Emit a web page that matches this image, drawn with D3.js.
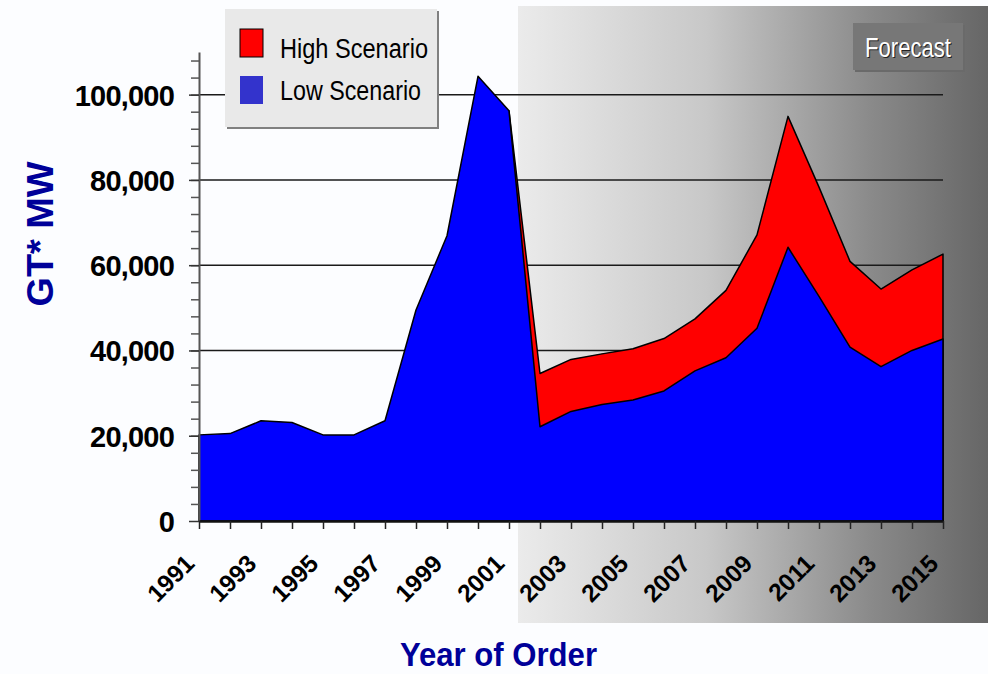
<!DOCTYPE html>
<html>
<head>
<meta charset="utf-8">
<script src="https://cdn.jsdelivr.net/npm/d3@7"></script>
<style>
  body { margin: 0; background: #fcfdff; }
  svg { display: block; }
  text { font-family: "Liberation Sans", Arial, sans-serif; }
</style>
</head>
<body>
<svg width="988" height="674"></svg>
<script>
// years of order
var years = d3.range(1991, 2016);
// low scenario, GT* MW
var lowScenario = [20200, 20500, 23500, 23100, 20200, 20200, 23500, 49500, 66900, 104300,
                   96200, 22100, 25700, 27300, 28400, 30500, 35200, 38300, 45200, 64200,
                   52700, 40800, 36200, 40000, 42700];
// high scenario (only from 2001 on)
var highScenario = [null, null, null, null, null, null, null, null, null, null,
                    96200, 34600, 37900, 39200, 40400, 42800, 47400, 54100, 67100, 94900,
                    78300, 60900, 54400, 58900, 62600];
var yTicks = [0, 20000, 40000, 60000, 80000, 100000];
var yMinor = d3.range(4000, 110000, 4000);
var xLabels = d3.range(1991, 2016, 2);
var seriesNames = ["High Scenario", "Low Scenario"];

var svg = d3.select("svg");

var x = d3.scaleLinear().domain([1991, 2015]).range([199, 943]);
var y = d3.scaleLinear().domain([0, 110000]).range([521, 52]);

// forecast shading
var defs = svg.append("defs");
var grad = defs.append("linearGradient").attr("id", "fc").attr("x1", 0).attr("x2", 1).attr("y1", 0).attr("y2", 0);
grad.append("stop").attr("offset", "0%").attr("stop-color", "#ebebeb");
grad.append("stop").attr("offset", "40%").attr("stop-color", "#c8c8c8");
grad.append("stop").attr("offset", "75%").attr("stop-color", "#8a8a8a");
grad.append("stop").attr("offset", "100%").attr("stop-color", "#666666");
svg.append("rect").attr("x", 518).attr("y", 6).attr("width", 470).attr("height", 617).attr("fill", "url(#fc)");

// gridlines
svg.append("g").selectAll("line").data(yTicks.slice(1)).enter().append("line")
  .attr("x1", x(1991)).attr("x2", x(2015))
  .attr("y1", function(d) { return y(d); }).attr("y2", function(d) { return y(d); })
  .attr("stroke", "#1a1a1a").attr("stroke-width", 1.5);

// areas
var highArea = d3.area()
  .defined(function(d, i) { return highScenario[i] != null; })
  .x(function(d, i) { return x(years[i]); })
  .y0(y(0))
  .y1(function(d, i) { return y(highScenario[i]); });
var lowArea = d3.area()
  .x(function(d, i) { return x(years[i]); })
  .y0(y(0))
  .y1(function(d, i) { return y(lowScenario[i]); });

svg.append("path").datum(years).attr("d", highArea)
  .attr("fill", "#ff0000").attr("stroke", "#000").attr("stroke-width", 1.5).attr("stroke-linejoin", "round");
svg.append("path").datum(years).attr("d", lowArea)
  .attr("fill", "#0000ff").attr("stroke", "#000").attr("stroke-width", 1.5).attr("stroke-linejoin", "round");

// y axis
var yMinorAxis = svg.append("g").attr("transform", "translate(199,0)")
  .call(d3.axisLeft(y).tickValues(yMinor).tickSize(8).tickSizeOuter(0).tickFormat(""));
yMinorAxis.select(".domain").attr("stroke", "#555").attr("stroke-width", 2);
yMinorAxis.selectAll(".tick line").attr("stroke", "#555").attr("stroke-width", 1.5);

var yAxis = svg.append("g").attr("transform", "translate(199,0)")
  .call(d3.axisLeft(y).tickValues(yTicks).tickSize(10).tickSizeOuter(0).tickPadding(15).tickFormat(d3.format(",")));
yAxis.select(".domain").remove();
yAxis.selectAll(".tick line").attr("stroke", "#333").attr("stroke-width", 1.5);
yAxis.selectAll(".tick text")
  .attr("font-size", 29).attr("font-weight", "bold").attr("fill", "#000")
  .attr("letter-spacing", -0.8).attr("dy", "0.36em");

// x axis
var xAxis = svg.append("g").attr("transform", "translate(0," + y(0) + ")")
  .call(d3.axisBottom(x).tickValues(years).tickSize(8).tickSizeOuter(0).tickFormat(""));
xAxis.select(".domain").attr("stroke", "#111").attr("stroke-width", 2.5);
xAxis.selectAll(".tick line").attr("stroke", "#222").attr("stroke-width", 1.5);

svg.append("g").selectAll("text").data(xLabels).enter().append("text")
  .attr("transform", function(d) { return "translate(" + (x(d) - 3) + ",565) rotate(-45)"; })
  .attr("text-anchor", "end")
  .attr("font-size", 24.5).attr("font-weight", "bold").attr("fill", "#000")
  .text(function(d) { return d; });

// axis titles
svg.append("text")
  .attr("transform", "translate(53,234) rotate(-90)")
  .attr("text-anchor", "middle")
  .attr("font-size", 37).attr("font-weight", "bold").attr("fill", "#000099")
  .attr("textLength", 145).attr("lengthAdjust", "spacingAndGlyphs")
  .text("GT* MW");
svg.append("text")
  .attr("x", 400).attr("y", 666)
  .attr("font-size", 33).attr("font-weight", "bold").attr("fill", "#000099")
  .attr("textLength", 197).attr("lengthAdjust", "spacingAndGlyphs")
  .text("Year of Order");

// legend
var legend = svg.append("g");
legend.append("rect").attr("x", 227).attr("y", 11).attr("width", 212).attr("height", 118).attr("fill", "#808080");
legend.append("rect").attr("x", 225).attr("y", 9).attr("width", 212).attr("height", 118).attr("fill", "#e9e9e9");
var swatchColors = ["#ff0000", "#3333cc"];
var swatchStroke = ["#000", "none"];
var textLen = [148, 141];
legend.selectAll(".sw").data(seriesNames).enter().append("rect")
  .attr("x", 240).attr("y", function(d, i) { return 29 + i * 47; })
  .attr("width", 23).attr("height", 28)
  .attr("fill", function(d, i) { return swatchColors[i]; })
  .attr("stroke", function(d, i) { return swatchStroke[i]; });
legend.selectAll(".lt").data(seriesNames).enter().append("text")
  .attr("x", 280).attr("y", function(d, i) { return 58 + i * 42; })
  .attr("font-size", 27).attr("fill", "#000")
  .attr("textLength", function(d, i) { return textLen[i]; }).attr("lengthAdjust", "spacingAndGlyphs")
  .text(function(d) { return d; });

// forecast label
svg.append("rect").attr("x", 855).attr("y", 25).attr("width", 110).attr("height", 47).attr("fill", "#6a6a6a");
svg.append("rect").attr("x", 853).attr("y", 23).attr("width", 110).attr("height", 47).attr("fill", "#777777");
svg.append("text").attr("x", 866).attr("y", 58)
  .attr("font-size", 27).attr("fill", "#222")
  .attr("textLength", 86).attr("lengthAdjust", "spacingAndGlyphs").text("Forecast");
svg.append("text").attr("x", 865).attr("y", 57)
  .attr("font-size", 27).attr("fill", "#fff")
  .attr("textLength", 86).attr("lengthAdjust", "spacingAndGlyphs").text("Forecast");
</script>
</body>
</html>
